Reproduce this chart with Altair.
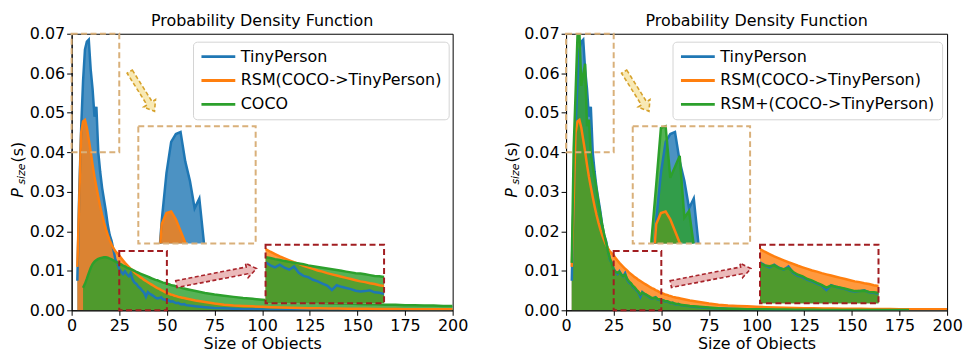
import altair as alt
import pandas as pd

FONT = "DejaVu Sans"

# ---------------- data ----------------
X_FINE = list(range(3, 61))
X_COARSE = list(range(65, 201, 5))
X = X_FINE + X_COARSE

TINY_FINE = [0.0075, 0.030, 0.046, 0.058, 0.066, 0.068, 0.0685, 0.061, 0.056, 0.049,
             0.0515, 0.040, 0.035, 0.031, 0.028, 0.025, 0.0215, 0.019, 0.0175, 0.0152,
             0.0128, 0.0120, 0.0105, 0.0097, 0.0092, 0.0099, 0.0091, 0.0086, 0.0094, 0.0078,
             0.0070, 0.0067, 0.0060, 0.0056, 0.0050, 0.0045, 0.0034, 0.0046, 0.0042, 0.0039,
             0.0036, 0.0032, 0.0030, 0.0031, 0.0033, 0.0028, 0.0027, 0.0024, 0.0025, 0.0022,
             0.0023, 0.0020, 0.0018, 0.0019, 0.0016, 0.0015, 0.0016, 0.0013]
TINY_COARSE = [0.0010, 0.0008, 0.0006, 0.0005, 0.0004, 0.0003, 0.00025, 0.0002, 0.00015, 0.00012,
               0.0001, 0.0001, 0.00008, 0.00007, 0.00006, 0.00006, 0.00005, 0.00005, 0.00004, 0.00004,
               0.00004, 0.00003, 0.00003, 0.00003, 0.00002, 0.00002, 0.00002, 0.00002]

RSM_FINE = [0.011, 0.028, 0.045, 0.0478, 0.0482, 0.0462, 0.0432, 0.0402, 0.0368, 0.0338,
            0.0312, 0.0287, 0.0263, 0.0241, 0.0222, 0.0205, 0.0190, 0.0177, 0.0166, 0.0157,
            0.0149, 0.0144, 0.0139, 0.0132, 0.0126, 0.0120, 0.0115, 0.0110, 0.0105, 0.0101,
            0.0096, 0.0092, 0.0088, 0.0084, 0.0081, 0.0077, 0.0074, 0.0071, 0.0068, 0.0065,
            0.0062, 0.0059, 0.0056, 0.0054, 0.0051, 0.0049, 0.0046, 0.0044, 0.0042, 0.0040,
            0.0039, 0.0037, 0.0036, 0.0034, 0.0033, 0.0032, 0.0031, 0.0030]
RSM_COARSE = [0.0025, 0.0021, 0.0017, 0.0014, 0.0012, 0.0011, 0.0010, 0.0009, 0.0008, 0.0007,
              0.00065, 0.0006, 0.00055, 0.0005, 0.00047, 0.00044, 0.00041, 0.00039, 0.00037, 0.00035,
              0.00033, 0.00031, 0.0003, 0.00029, 0.00028, 0.00027, 0.00026, 0.00025]

COCO_FINE = [None, None, None,
             0.0057, 0.0067, 0.0080, 0.0094, 0.0107, 0.0117, 0.0123, 0.0127, 0.0130, 0.0132,
             0.0133, 0.0134, 0.0134, 0.0133, 0.0131, 0.0129, 0.0126, 0.0123, 0.0121, 0.0118,
             0.0116, 0.0113, 0.0111, 0.0108, 0.0106, 0.0104, 0.0102, 0.0100, 0.0097, 0.0095,
             0.0093, 0.0091, 0.0089, 0.0087, 0.0085, 0.0083, 0.0081, 0.0079, 0.0077, 0.0076,
             0.0074, 0.0072, 0.0070, 0.0069, 0.0067, 0.0066, 0.0064, 0.0063, 0.0062, 0.0060,
             0.0059, 0.0058, 0.0056, 0.0055, 0.0054]
COCO_COARSE = [0.0049, 0.0044, 0.0040, 0.0037, 0.0034, 0.0031, 0.0029, 0.0027, 0.0025, 0.0024,
               0.0022, 0.0021, 0.0020, 0.0019, 0.0018, 0.0017, 0.0017, 0.0016, 0.0015, 0.0015,
               0.0014, 0.0014, 0.0013, 0.0013, 0.0012, 0.0012, 0.0011, 0.0011]

RSMP_FINE = [0.012, 0.041, 0.055, 0.0695, 0.0705, 0.0568, 0.0596, 0.0624, 0.0466, 0.0483,
             0.0395, 0.0365, 0.0335, 0.0305, 0.0272, 0.0243, 0.0215, 0.0192, 0.0172, 0.0150,
             0.0131, 0.0118, 0.0102, 0.0097, 0.0095, 0.0097, 0.0090, 0.0087, 0.0090, 0.0080,
             0.0073, 0.0069, 0.0062, 0.0058, 0.0052, 0.0047, 0.0040, 0.0045, 0.0042, 0.0040,
             0.0037, 0.0034, 0.0031, 0.0031, 0.0032, 0.0029, 0.0028, 0.0026, 0.0025, 0.0023,
             0.0023, 0.0021, 0.0019, 0.0019, 0.0017, 0.0016, 0.0016, 0.0014]
RSMP_COARSE = [0.0011, 0.0009, 0.0007, 0.0005, 0.0004, 0.0004, 0.0003, 0.0003, 0.00025, 0.0002,
               0.0002, 0.00015, 0.00015, 0.00012, 0.0001, 0.0001, 0.0001, 0.00008, 0.00008, 0.00007,
               0.00006, 0.00006, 0.00005, 0.00005, None, None, None, None]

TINY = TINY_FINE + TINY_COARSE
RSM = RSM_FINE + RSM_COARSE
COCO = COCO_FINE + COCO_COARSE
RSMP = RSMP_FINE + RSMP_COARSE

NAMES_LEFT = ["TinyPerson", "RSM(COCO->TinyPerson)", "COCO"]
NAMES_RIGHT = ["TinyPerson", "RSM(COCO->TinyPerson)", "RSM+(COCO->TinyPerson)"]
COLORS = ["#1f77b4", "#ff7f0e", "#2ca02c"]

X_TICKS = list(range(0, 201, 25))
Y_TICKS = [0.0, 0.01, 0.02, 0.03, 0.04, 0.05, 0.06, 0.07]

TITLE = "Probability Density Function"
X_TITLE = "Size of Objects"

# zoom windows: source region -> inset rectangle (data units)
ZOOM_TAN = {"src": (0, 25, 0.04, 0.07), "dst": (35, 96.6, 0.0169, 0.0466)}
ZOOM_RED = {"src": (25, 50, 0.0, 0.015), "dst": (101.8, 164, 0.0018, 0.0166)}

# ---------------- styles ----------------
TAN = "#d9b07a"
RED = "#a11d21"
FILL_A = 0.8
LW = 2.5
W, H = 383, 278

XS = alt.Scale(domain=[0, 200], nice=False, zero=False)
YS = alt.Scale(domain=[0, 0.07], nice=False)
X_AXIS = alt.Axis(values=X_TICKS, format="d", title=X_TITLE, labelFlush=False,
                  labelOverlap=False, titlePadding=2)
Y_AXIS = alt.Axis(values=Y_TICKS, format=".2f", title=None, labelOverlap=False)


def xq(f="x"):
    return alt.X(f"{f}:Q", scale=XS, axis=X_AXIS)


def yq(f="y"):
    return alt.Y(f"{f}:Q", scale=YS, axis=Y_AXIS, stack=None)


def series_df(name, vals):
    return pd.DataFrame([{"x": x, "y": v, "s": name}
                         for x, v in zip(X, vals) if v is not None])


def clip_low(xs, ys, lo):
    segs, cur = [], []
    for i in range(len(xs)):
        x, y = xs[i], ys[i]
        if i > 0:
            xp, yp = xs[i - 1], ys[i - 1]
            if (yp - lo) * (y - lo) < 0:
                xc = xp + (lo - yp) * (x - xp) / (y - yp)
                cur.append((xc, lo))
                if y < lo:
                    segs.append(cur)
                    cur = []
        if y >= lo:
            cur.append((x, y))
    if cur:
        segs.append(cur)
    return segs


def inset_df(name, vals, zoom):
    sx0, sx1, sy0, sy1 = zoom["src"]
    dx0, dx1, dy0, dy1 = zoom["dst"]
    pts = [(x, v) for x, v in zip(X, vals) if v is not None and sx0 <= x <= sx1]
    rows = []
    for k, seg in enumerate(clip_low([p[0] for p in pts], [p[1] for p in pts], sy0)):
        for x, y in seg:
            rows.append({
                "x": dx0 + (x - sx0) * (dx1 - dx0) / (sx1 - sx0),
                "y": dy0 + (min(y, sy1) - sy0) * (dy1 - dy0) / (sy1 - sy0),
                "b": dy0, "seg": k, "s": name})
    return pd.DataFrame(rows)


def rect_df(r):
    return pd.DataFrame({"x0": [r[0]], "x1": [r[1]], "y0": [r[2]], "y1": [r[3]]})


def box(r, col):
    return alt.Chart(rect_df(r)).mark_rect(fillOpacity=0, stroke=col, strokeWidth=2,
                                           strokeDash=[6, 3.5]).encode(
        x=xq("x0"), x2="x1", y=yq("y0"), y2="y1")


def bg(r):
    return alt.Chart(rect_df(r)).mark_rect(fill="white", strokeOpacity=0).encode(
        x=xq("x0"), x2="x1", y=yq("y0"), y2="y1")


ARROW_TAN = "M -1 -0.13 L 0.6 -0.13 L 0.6 -0.3 L 1 0 L 0.6 0.3 L 0.6 0.13 L -1 0.13 Z"
ARROW_RED = "M -1 -0.085 L 0.76 -0.085 L 0.76 -0.18 L 1 0 L 0.76 0.18 L 0.76 0.085 L -1 0.085 Z"
ARROWS = [  # centre (data units), length px, angle deg, path, stroke, fill
    {"x": 37.0, "y": 0.0554, "len": 47, "angle": 58, "path": ARROW_TAN,
     "stroke": "#d6a22c", "fill": "#f8e9b4"},
    {"x": 76.0, "y": 0.0086, "len": 82, "angle": 349, "path": ARROW_RED,
     "stroke": "#a8232a", "fill": "#ebbaba"},
]


def text_layer(txt, size, style, px, py, baseline="middle", angle=270):
    return alt.Chart(pd.DataFrame({"t": [txt]})).mark_text(
        font=FONT, fontSize=size, fontStyle=style, angle=angle, align="center",
        baseline=baseline, color="black").encode(
        x=alt.value(px), y=alt.value(py), text="t:N")


def panel(names, series, legend_x):
    layers = []
    for name, vals, col in zip(names, series, COLORS):
        layers.append(alt.Chart(series_df(name, vals)).mark_area(
            color=col, fillOpacity=FILL_A, clip=True).encode(x=xq(), y=yq()))
    all_df = pd.concat([series_df(n, v) for n, v in zip(names, series)])
    layers.append(alt.Chart(all_df).mark_line(strokeWidth=LW, clip=True).encode(
        x=xq(), y=yq(),
        color=alt.Color("s:N", scale=alt.Scale(domain=names, range=COLORS),
                        legend=alt.Legend(
                            title=None, orient="none", legendX=legend_x, legendY=8,
                            symbolType="stroke", symbolSize=1156, symbolStrokeWidth=3,
                            labelFont=FONT, labelFontSize=16, labelColor="black",
                            labelLimit=600, labelOffset=4, padding=7, rowPadding=8,
                            clipHeight=16, fillColor="white", strokeColor="#d4d4d4",
                            cornerRadius=4, symbolOffset=0))))
    for z, col in ((ZOOM_TAN, TAN), (ZOOM_RED, RED)):
        layers.append(box(z["src"], col))
    for z, col in ((ZOOM_TAN, TAN), (ZOOM_RED, RED)):
        layers.append(bg(z["dst"]))
        for name, vals, c in zip(names, series, COLORS):
            d = inset_df(name, vals, z)
            layers.append(alt.Chart(d).mark_area(color=c, fillOpacity=FILL_A).encode(
                x=xq(), y=yq(), y2="b:Q", detail="seg:N"))
        for name, vals, c in zip(names, series, COLORS):
            d = inset_df(name, vals, z)
            layers.append(alt.Chart(d).mark_line(color=c, strokeWidth=LW).encode(
                x=xq(), y=yq(), detail="seg:N"))
        layers.append(box(z["dst"], col))
    for a in ARROWS:
        layers.append(alt.Chart(pd.DataFrame({"x": [a["x"]], "y": [a["y"]]})).mark_point(
            shape=a["path"], size=a["len"] ** 2, angle=a["angle"], filled=True,
            fill=a["fill"], stroke=a["stroke"], strokeWidth=1.6, strokeDash=[4, 2.5],
            opacity=1, fillOpacity=1).encode(x=xq(), y=yq()))
    # y-axis title P_size(s)
    layers.append(text_layer("P", 16, "italic", -54, 160))
    layers.append(text_layer("size", 11, "italic", -50, 141))
    layers.append(text_layer("(s)", 16, "normal", -54, 119))
    # panel title
    layers.append(text_layer(TITLE, 16, "normal", W / 2, -8, baseline="alphabetic", angle=0))
    return alt.layer(*layers).properties(width=W, height=H)


left = panel(NAMES_LEFT, [TINY, RSM, COCO], 122)
right = panel(NAMES_RIGHT, [TINY, RSM, RSMP], 107)

chart = alt.hconcat(left, right, spacing=35).resolve_scale(color="independent").properties(
    padding={"left": 9, "top": 11, "right": 0, "bottom": 0}
).configure_view(stroke="black", strokeWidth=1).configure_axis(
    labelFont=FONT, labelFontSize=16, labelColor="black", titleFont=FONT, titleFontSize=16,
    titleColor="black", titleFontWeight="normal", tickColor="black", domainColor="black",
    tickSize=5, labelPadding=2, grid=False, domainWidth=1, tickWidth=1
)

chart.save("out.html", embed_options={"renderer": "svg", "actions": False})
